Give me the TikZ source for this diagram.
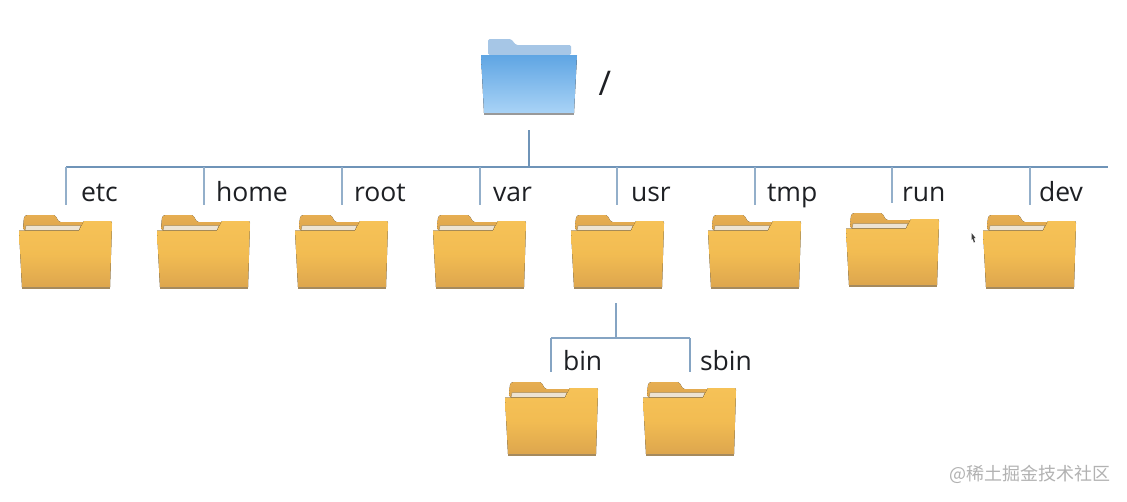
\documentclass[tikz,border=0pt]{standalone}
\usepackage{fontspec}
\setmainfont{Open Sans}
\newfontfamily\cjkwm{Noto Sans CJK SC}
\definecolor{lineblue}{HTML}{6F94B8}
\definecolor{texk}{HTML}{1E2024}
\definecolor{tabyellow}{HTML}{E6AE52}
\definecolor{tabyellowb}{HTML}{DFA64C}
\definecolor{paper}{HTML}{EDE3D2}
\definecolor{paperedge}{HTML}{A88F63}
\definecolor{frontbot}{HTML}{DDA64E}
\definecolor{fronttop}{HTML}{F6C257}
\definecolor{frontmid}{HTML}{F2BC52}
\definecolor{baseyellow}{HTML}{A58A5E}
\definecolor{tabblue}{HTML}{A6C6E6}
\definecolor{bluetop}{HTML}{5FA5E3}
\definecolor{bluebot}{HTML}{A9D3F6}
\tikzset{
  conn/.style={draw=lineblue,line width=1.4pt},
  tick/.style={draw=lineblue!75,line width=1.1pt,shorten >=10pt},
  subconn/.style={draw=lineblue!85,line width=1.1pt},
  folderbox/.style={inner sep=0pt,outer sep=0pt,anchor=north west,minimum width=93pt,minimum height=73pt},
  rootbox/.style={inner sep=0pt,outer sep=0pt,anchor=north west,minimum width=96pt,minimum height=76pt},
  lab/.style={anchor=base west,inner sep=0pt,outer sep=0pt,text=texk,font=\fontsize{26.5}{27}\selectfont},
}
% #1 name, #2 x, #3 y
\newcommand{\yfolder}[3]{%
  \begin{scope}[shift={(#2,#3)}]
    \fill[bottom color=tabyellowb,top color=tabyellow,rounded corners=1.5pt]
      (4,15) -- (5,2) -- (7,0) -- (36,0) -- (40,7) -- (66,7) -- (66,15) -- cycle;
    \fill[paper,draw=paperedge,line width=.5pt] (7,10.5) -- (62,10.5) -- (60,15.5) -- (6,15.5) -- cycle;
    \fill[bottom color=frontbot,top color=fronttop,middle color=frontmid]
      (0,15.5) -- (60,15.5) -- (65,6) -- (92,6) -- (93,8) -- (91,72) -- (3,72) -- cycle;
    \fill[baseyellow] (3,71.5) -- (91,71.5) -- (91,73.5) -- (3,73.5) -- cycle;
  \end{scope}
  \node[folderbox] (#1) at (#2,#3) {};
}
\begin{document}
\begin{tikzpicture}[x=1pt,y=-1pt]
  \useasboundingbox (0,0) rectangle (1127,501);
  \fill[white] (0,0) rectangle (1127,501);
  % root folder
  \begin{scope}[shift={(481,39)}]
    \fill[tabblue,rounded corners=1.5pt] (7,16) -- (7,0) -- (30,0) -- (35,6) -- (90,6) -- (90,16) -- cycle;
    \fill[top color=bluetop,bottom color=bluebot] (0,16) -- (96,16) -- (93,74) -- (3,74) -- cycle;
    \fill[gray!80] (3,74) -- (93,74) -- (93,76) -- (3,76) -- cycle;
  \end{scope}
  \node[rootbox] (root) at (481,39) {};
  \node[lab,font=\fontsize{34}{34}\selectfont] (slash) at (598.5,95) {/};

  % folders
  \yfolder{etc}{19}{215}
  \yfolder{home}{157}{215}
  \yfolder{rootdir}{295}{215}
  \yfolder{var}{433}{215}
  \yfolder{usr}{571}{215}
  \yfolder{tmp}{708}{215}
  \yfolder{run}{846}{213}
  \yfolder{dev}{983}{215}
  \yfolder{bin}{505}{382}
  \yfolder{sbin}{643}{382}

  % labels
  \node[lab] (tetc) at (81,201) {etc};
  \node[lab] (thome) at (216,201) {home};
  \node[lab] (troot) at (354,201) {root};
  \node[lab] (tvar) at (493,201) {var};
  \node[lab] (tusr) at (631,201) {usr};
  \node[lab] (ttmp) at (767,201) {tmp};
  \node[lab] (trun) at (902,201) {run};
  \node[lab] (tdev) at (1039,201) {dev};
  \node[lab] (tbin) at (563,370) {bin};
  \node[lab] (tsbin) at (700,370) {sbin};

  % main bus
  \coordinate (busL) at (66,167);
  \coordinate (busR) at (1108,167);
  \draw[conn] (busL) -- (busR);
  \draw[conn,shorten <=15pt] (root.south) -- (root.south |- busL);
  \foreach \n/\dx in {etc/0.5,home/0.5,rootdir/0.5,var/0.5,usr/-0.5,tmp/0.5,run/-0.5,dev/0.5}{
    \draw[tick] ([xshift=\dx pt]\n.north |- busL) -- ([xshift=\dx pt]\n.north);
  }
  % sub bus
  \coordinate (subL) at (551,338);
  \coordinate (subR) at (690,338);
  \draw[subconn] (subL) -- (subR);
  \draw[subconn,shorten <=15pt] ([xshift=-1.5pt]usr.south) -- ([xshift=-1.5pt]usr.south |- subL);
  \draw[tick,draw=lineblue!85] ([xshift=-0.5pt]bin.north |- subL) -- ([xshift=-0.5pt]bin.north);
  \draw[tick,draw=lineblue!85] ([xshift=0.5pt]sbin.north |- subL) -- ([xshift=0.5pt]sbin.north);

  % mouse cursor
  \fill[black!75] (971.5,233) -- (975.5,238) -- (973.8,238) -- (975,242) -- (973.8,242.5) -- (972.6,238.6) -- (971.5,240) -- cycle;

  % watermark
  \node[anchor=base east,inner sep=0pt,text=black!30,font=\cjkwm\fontsize{18}{18}\selectfont] (wm) at (1111,480) {@稀土掘金技术社区};
\end{tikzpicture}
\end{document}
